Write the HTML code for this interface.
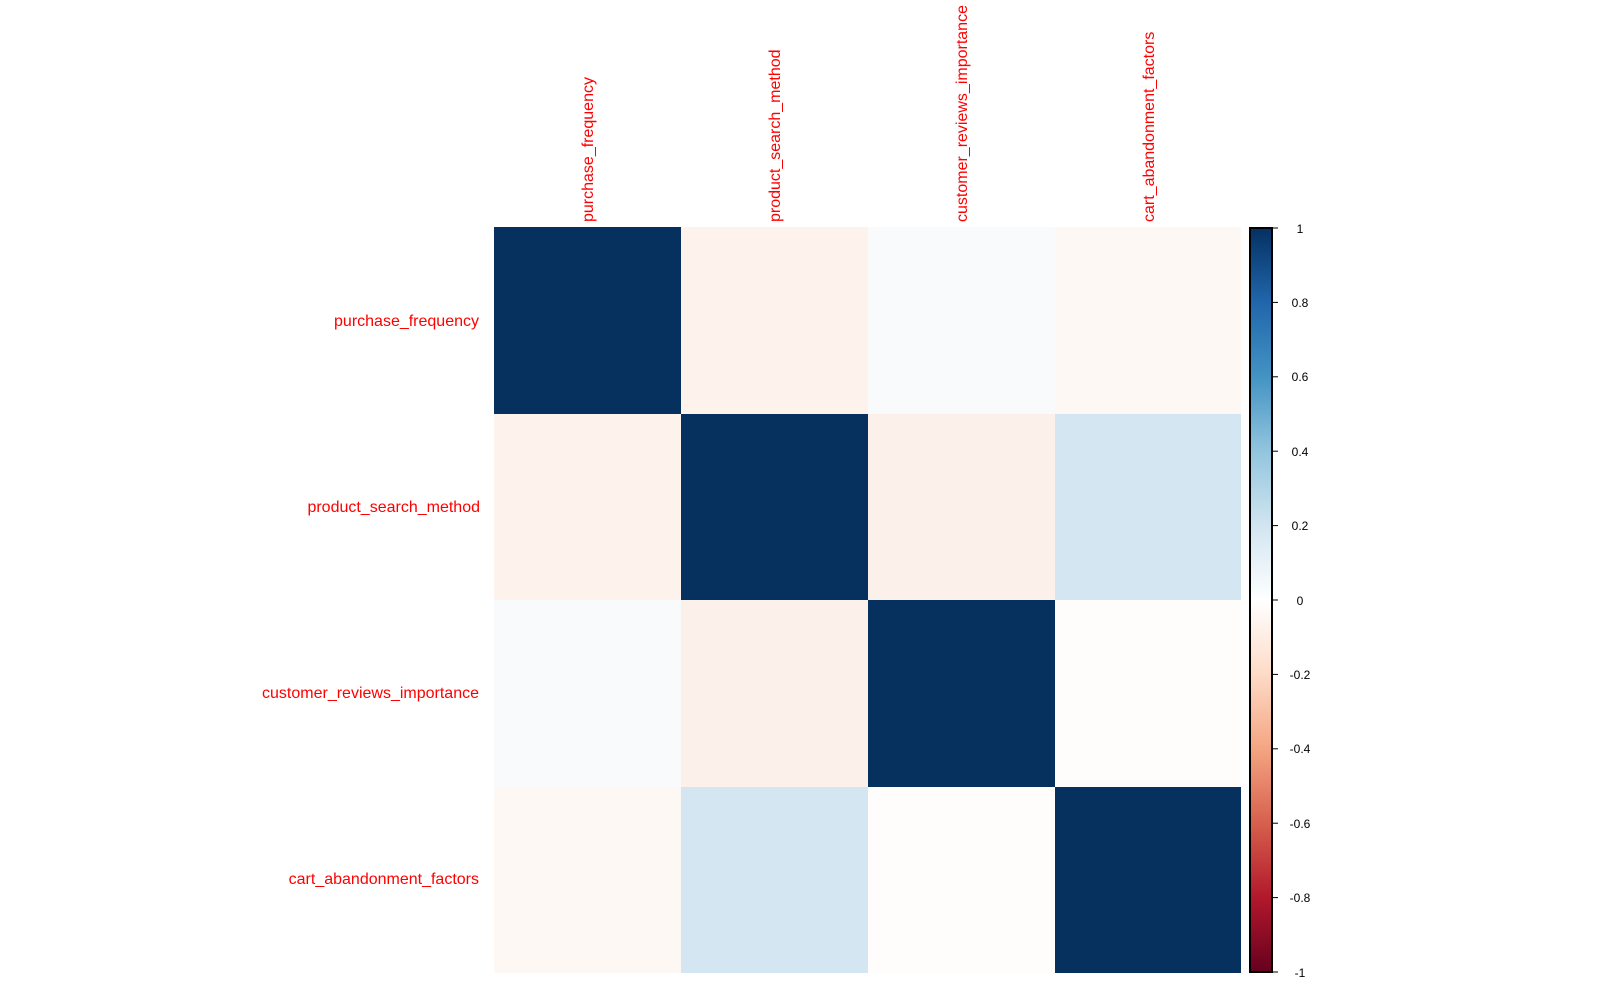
<!DOCTYPE html>
<html><head><meta charset="utf-8"><style>body{margin:0;background:#fff}</style></head><body>
<svg width="1600" height="988" xmlns="http://www.w3.org/2000/svg" font-family="Liberation Sans, sans-serif">
<defs><linearGradient id="g" x1="0" y1="1" x2="0" y2="0">
<stop offset="0" stop-color="#67001F"/><stop offset="0.1" stop-color="#B2182B"/><stop offset="0.2" stop-color="#D6604D"/><stop offset="0.3" stop-color="#F4A582"/><stop offset="0.4" stop-color="#FDDBC7"/><stop offset="0.5" stop-color="#FFFFFF"/><stop offset="0.6" stop-color="#D1E5F0"/><stop offset="0.7" stop-color="#92C5DE"/><stop offset="0.8" stop-color="#4393C3"/><stop offset="0.9" stop-color="#2166AC"/><stop offset="1" stop-color="#053061"/></linearGradient></defs>
<g>
<rect x="494" y="227" width="187" height="187" fill="#06305E"/>
<rect x="681" y="227" width="187" height="187" fill="#FDF2EC"/>
<rect x="868" y="227" width="187" height="187" fill="#F8FAFB"/>
<rect x="1055" y="227" width="186" height="187" fill="#FEF8F5"/>
<rect x="494" y="414" width="187" height="186" fill="#FDF2EC"/>
<rect x="681" y="414" width="187" height="186" fill="#06305E"/>
<rect x="868" y="414" width="187" height="186" fill="#FCF0EA"/>
<rect x="1055" y="414" width="186" height="186" fill="#D4E6F1"/>
<rect x="494" y="600" width="187" height="187" fill="#F8FAFB"/>
<rect x="681" y="600" width="187" height="187" fill="#FCF0EA"/>
<rect x="868" y="600" width="187" height="187" fill="#06305E"/>
<rect x="1055" y="600" width="186" height="187" fill="#FEFDFC"/>
<rect x="494" y="787" width="187" height="186" fill="#FEF8F5"/>
<rect x="681" y="787" width="187" height="186" fill="#D4E6F1"/>
<rect x="868" y="787" width="187" height="186" fill="#FEFDFC"/>
<rect x="1055" y="787" width="186" height="186" fill="#06305E"/>
</g>
<g fill="#FF0000" font-size="16">
<g text-anchor="end">
<text x="479" y="326">purchase_frequency</text>
<text x="480" y="512">product_search_method</text>
<text x="479" y="698">customer_reviews_importance</text>
<text x="479" y="884">cart_abandonment_factors</text>
</g>
<text transform="translate(593,222) rotate(-90)">purchase_frequency</text>
<text transform="translate(780,222) rotate(-90)">product_search_method</text>
<text transform="translate(967,222) rotate(-90)">customer_reviews_importance</text>
<text transform="translate(1154,222) rotate(-90)">cart_abandonment_factors</text>
</g>
<rect x="1250" y="228" width="22" height="744" fill="url(#g)" stroke="#000" stroke-width="2"/>
<g stroke="#000" stroke-width="1">
<line x1="1272" y1="228" x2="1278" y2="228"/><line x1="1272" y1="302.4" x2="1278" y2="302.4"/><line x1="1272" y1="376.8" x2="1278" y2="376.8"/><line x1="1272" y1="451.2" x2="1278" y2="451.2"/><line x1="1272" y1="525.6" x2="1278" y2="525.6"/><line x1="1272" y1="600" x2="1278" y2="600"/><line x1="1272" y1="674.4" x2="1278" y2="674.4"/><line x1="1272" y1="748.8" x2="1278" y2="748.8"/><line x1="1272" y1="823.2" x2="1278" y2="823.2"/><line x1="1272" y1="897.6" x2="1278" y2="897.6"/><line x1="1272" y1="972" x2="1278" y2="972"/>
</g>
<g font-size="12" fill="#000" text-anchor="middle">
<text x="1300" y="233">1</text><text x="1300" y="307">0.8</text><text x="1300" y="381">0.6</text><text x="1300" y="456">0.4</text><text x="1300" y="530">0.2</text><text x="1300" y="605">0</text><text x="1300" y="679">-0.2</text><text x="1300" y="753">-0.4</text><text x="1300" y="828">-0.6</text><text x="1300" y="902">-0.8</text><text x="1300" y="977">-1</text>
</g>
</svg>
</body></html>
